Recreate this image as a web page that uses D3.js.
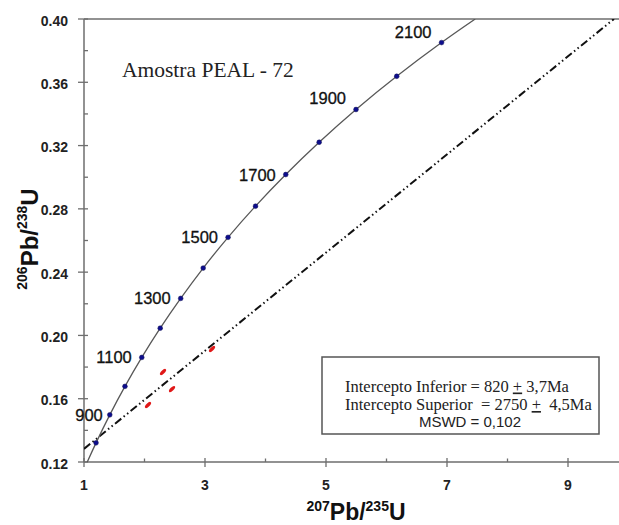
<!DOCTYPE html>
<html>
<head>
<meta charset="utf-8">
<script src="https://cdn.jsdelivr.net/npm/d3@7"></script>
<style>
  html, body { margin: 0; padding: 0; background: #fff; }
  svg { display: block; }
</style>
</head>
<body>
<div id="chart"></div>
<script>
// Concordia reference ages (Ma) with their isotope ratios
const concordiaAges = [800, 900, 1000, 1100, 1200, 1300, 1400, 1500, 1600, 1700, 1800, 1900, 2000, 2100];
const concordiaX = [1.199, 1.426, 1.677, 1.955, 2.260, 2.598, 2.970, 3.381, 3.835, 4.335, 4.887, 5.496, 6.169, 6.910];
const concordiaY = [0.1321, 0.1498, 0.1678, 0.1861, 0.2046, 0.2234, 0.2426, 0.2620, 0.2817, 0.3017, 0.3221, 0.3428, 0.3638, 0.3851];
// where the concordia enters and leaves the plotted window
const concordiaStart = [1.054, 0.12];
const concordiaEnd = [7.467, 0.40];
const labelledAges = [900, 1100, 1300, 1500, 1700, 1900, 2100];

// Discordia through the lower (820 Ma) and upper (2750 Ma) intercepts
const discordiaX = [1.0, 9.76];
const discordiaY = [0.1283, 0.400];

// Zircon analyses (error ellipse centres)
const spotX = [2.058, 2.306, 2.455, 3.116];
const spotY = [0.1560, 0.1769, 0.1661, 0.1914];

const xMajorTicks = [1, 3, 5, 7, 9];
const xMinorTicks = [2, 4, 6, 8];
const yMajorTicks = [0.12, 0.16, 0.20, 0.24, 0.28, 0.32, 0.36, 0.40];
const yMinorTicks = [0.14, 0.18, 0.22, 0.26, 0.30, 0.34, 0.38];

const sampleName = "Amostra PEAL - 72";
const resultLines = [
  ["Intercepto Inferior = 820 ", "+", " 3,7Ma"],
  ["Intercepto Superior  = 2750 ", "+", "  4,5Ma"]
];
const mswdText = "MSWD = 0,102";

const W = 619, H = 525;
const plotL = 84, plotR = 619, plotT = 19, plotB = 462;
const sans = "'Liberation Sans', Arial, sans-serif";
const serif = "'Liberation Serif', 'Times New Roman', serif";

const x = d3.scaleLinear().domain([1, 1 + (plotR - plotL) / 60.5]).range([plotL, plotR]);
const y = d3.scaleLinear().domain([0.12, 0.40]).range([plotB, plotT]);

const svg = d3.select("#chart").append("svg")
  .attr("width", W).attr("height", H);

svg.append("defs").append("clipPath").attr("id", "plot")
  .append("rect").attr("x", plotL).attr("y", plotT).attr("width", plotR - plotL).attr("height", plotB - plotT);

const axisColor = "#6e6e6e";

// frame: left axis, bottom axis, top line
svg.append("line").attr("x1", plotL).attr("x2", plotR).attr("y1", plotT).attr("y2", plotT)
  .attr("stroke", axisColor).attr("stroke-width", 1.5);
svg.append("line").attr("x1", plotL).attr("x2", plotR).attr("y1", plotB).attr("y2", plotB)
  .attr("stroke", axisColor).attr("stroke-width", 1.5);
svg.append("line").attr("x1", plotL).attr("x2", plotL).attr("y1", plotT).attr("y2", plotB)
  .attr("stroke", axisColor).attr("stroke-width", 1.5);

// y ticks
svg.selectAll(".ymaj").data(yMajorTicks).enter().append("line")
  .attr("x1", plotL - 6).attr("x2", plotL + 4)
  .attr("y1", d => y(d)).attr("y2", d => y(d))
  .attr("stroke", axisColor).attr("stroke-width", 1.3);
svg.selectAll(".ymin").data(yMinorTicks).enter().append("line")
  .attr("x1", plotL).attr("x2", plotL + 4)
  .attr("y1", d => y(d)).attr("y2", d => y(d))
  .attr("stroke", axisColor).attr("stroke-width", 1.3);
svg.selectAll(".ylab").data(yMajorTicks).enter().append("text")
  .attr("x", 68).attr("y", d => y(d) + 6.5)
  .attr("text-anchor", "end")
  .attr("font-family", sans).attr("font-weight", "bold").attr("font-size", 14)
  .attr("fill", "#222")
  .text(d => d3.format(".2f")(d));

// x ticks
svg.selectAll(".xmaj").data(xMajorTicks).enter().append("line")
  .attr("x1", d => x(d)).attr("x2", d => x(d))
  .attr("y1", plotB - 4).attr("y2", plotB + 5)
  .attr("stroke", axisColor).attr("stroke-width", 1.3);
svg.selectAll(".xmin").data(xMinorTicks).enter().append("line")
  .attr("x1", d => x(d)).attr("x2", d => x(d))
  .attr("y1", plotB - 3.5).attr("y2", plotB)
  .attr("stroke", axisColor).attr("stroke-width", 1.3);
svg.selectAll(".xlab").data(xMajorTicks).enter().append("text")
  .attr("x", d => x(d)).attr("y", 490)
  .attr("text-anchor", "middle")
  .attr("font-family", sans).attr("font-weight", "bold").attr("font-size", 14)
  .attr("fill", "#222")
  .text(d => d);

// axis titles
const xt = svg.append("text").attr("x", 356).attr("y", 520)
  .attr("text-anchor", "middle").attr("font-family", sans).attr("font-weight", "bold")
  .attr("fill", "#111");
xt.append("tspan").attr("font-size", 14).attr("dy", -9.5).text("207");
xt.append("tspan").attr("font-size", 23).attr("dy", 9.5).text("Pb/");
xt.append("tspan").attr("font-size", 14).attr("dy", -9.5).text("235");
xt.append("tspan").attr("font-size", 23).attr("dy", 9.5).text("U");

const yt = svg.append("text").attr("transform", "translate(37.5,239) rotate(-90)")
  .attr("text-anchor", "middle").attr("font-family", sans).attr("font-weight", "bold")
  .attr("fill", "#111");
yt.append("tspan").attr("font-size", 14).attr("dy", -11).text("206");
yt.append("tspan").attr("font-size", 24).attr("dy", 11).text("Pb/");
yt.append("tspan").attr("font-size", 14).attr("dy", -11).text("238");
yt.append("tspan").attr("font-size", 24).attr("dy", 11).text("U");

const plot = svg.append("g").attr("clip-path", "url(#plot)");

// discordia (dash-dot-dot)
plot.append("path")
  .datum(discordiaX.map((d, i) => [d, discordiaY[i]]))
  .attr("d", d3.line().x(d => x(d[0])).y(d => y(d[1])))
  .attr("fill", "none").attr("stroke", "#111").attr("stroke-width", 2)
  .attr("stroke-dasharray", "8,3,1.5,3,1.5,3");

// concordia curve
const curvePts = [concordiaStart]
  .concat(concordiaX.map((d, i) => [d, concordiaY[i]]))
  .concat([concordiaEnd]);
plot.append("path")
  .datum(curvePts)
  .attr("d", d3.line().x(d => x(d[0])).y(d => y(d[1])).curve(d3.curveNatural))
  .attr("fill", "none").attr("stroke", "#585858").attr("stroke-width", 1.3);

// analyses as small tilted ellipses
plot.selectAll(".spot").data(spotX.map((d, i) => [d, spotY[i]])).enter().append("ellipse")
  .attr("transform", d => `translate(${x(d[0])},${y(d[1])}) rotate(-45)`)
  .attr("rx", 4).attr("ry", 1.7)
  .attr("fill", "#e01818");

// concordia age markers
const ageData = concordiaAges.map((a, i) => ({ age: a, x: concordiaX[i], y: concordiaY[i] }));
svg.selectAll(".age").data(ageData).enter().append("circle")
  .attr("cx", d => x(d.x)).attr("cy", d => y(d.y)).attr("r", 2.4)
  .attr("fill", "#0d0d8c").attr("stroke", "#1a1a5a").attr("stroke-width", 0.5);

svg.selectAll(".agelab").data(ageData.filter(d => labelledAges.includes(d.age))).enter().append("text")
  .attr("x", d => x(d.x) - (d.age === 900 ? 7 : 10))
  .attr("y", d => y(d.y) + (d.age >= 1900 ? -11 : 0) + 6)
  .attr("text-anchor", "end")
  .attr("font-family", sans).attr("font-size", 16.5).attr("fill", "#111")
  .attr("stroke", "#111").attr("stroke-width", 0.3)
  .text(d => d.age);

// sample name
svg.append("text").attr("x", 122).attr("y", 77)
  .attr("font-family", serif).attr("font-size", 21.5).attr("fill", "#222")
  .text(sampleName);

// results box
svg.append("rect").attr("x", 322).attr("y", 357).attr("width", 277).attr("height", 77)
  .attr("fill", "#fff").attr("stroke", "#555").attr("stroke-width", 1.5);

resultLines.forEach((parts, i) => {
  const t = svg.append("text").attr("x", 345).attr("y", 391.5 + i * 18.5)
    .attr("font-family", serif).attr("font-size", 16.5).attr("fill", "#222")
    .style("white-space", "pre");
  t.append("tspan").text(parts[0]);
  t.append("tspan").style("text-decoration", "underline").text(parts[1]);
  t.append("tspan").text(parts[2]);
});
svg.append("text").attr("x", 470).attr("y", 426.5)
  .attr("text-anchor", "middle")
  .attr("font-family", sans).attr("font-size", 15).attr("fill", "#222")
  .text(mswdText);
</script>
</body>
</html>
